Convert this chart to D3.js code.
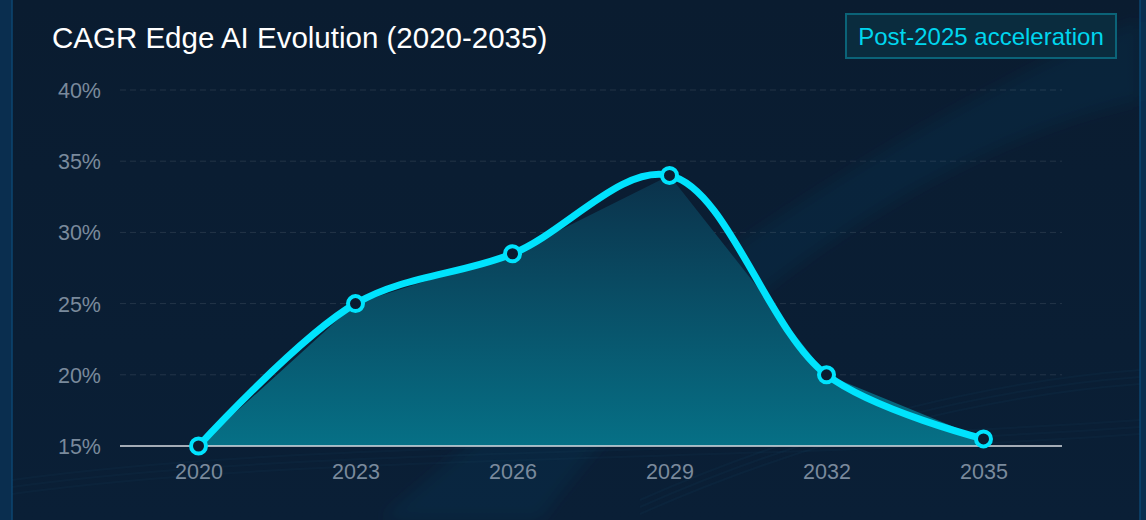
<!DOCTYPE html>
<html lang="en">
<head>
<meta charset="utf-8">
<title>CAGR Edge AI Evolution</title>
<style>
  html, body { margin: 0; padding: 0; background: #0a2a47; }
  #chart { width: 1146px; height: 520px; }
  svg { display: block; font-family: "Liberation Sans", Arial, sans-serif; }
</style>
</head>
<body>
<div id="chart"></div>
<script src="https://cdn.jsdelivr.net/npm/d3@7/dist/d3.min.js"></script>
<script>

// data
var years = [ "2020", "2023", "2026", "2029", "2032", "2035" ];
var cagr = [ 15, 25, 28.5, 34, 20, 15.5 ];
var yTicks = [ 15, 20, 25, 30, 35, 40 ];
var title = "CAGR Edge AI Evolution (2020-2035)";
var badge = "Post-2025 acceleration";

var W = 1146, H = 520;
var plot = { left : 120, right : 1062, top : 90, bottom : 446 };

var svg = d3.select( "#chart" ).append( "svg" )
    .attr( "width" , W )
    .attr( "height" , H );

var defs = svg.append( "defs" );

var bg = defs.append( "linearGradient" ).attr( "id" , "bg" )
    .attr( "x1" , 0 ).attr( "y1" , 0 ).attr( "x2" , 0 ).attr( "y2" , 1 );
bg.append( "stop" ).attr( "offset" , "0%" ).attr( "stop-color" , "#0a1c30" );
bg.append( "stop" ).attr( "offset" , "100%" ).attr( "stop-color" , "#0a1f36" );

var fill = defs.append( "linearGradient" ).attr( "id" , "areafill" )
    .attr( "gradientUnits" , "userSpaceOnUse" )
    .attr( "x1" , 0 ).attr( "y1" , 170 ).attr( "x2" , 0 ).attr( "y2" , plot.bottom );
fill.append( "stop" ).attr( "offset" , "0%" ).attr( "stop-color" , "#0b3049" );
fill.append( "stop" ).attr( "offset" , "100%" ).attr( "stop-color" , "#067086" );

var blur = defs.append( "filter" ).attr( "id" , "soft" )
    .attr( "x" , "-20%" ).attr( "y" , "-20%" ).attr( "width" , "140%" ).attr( "height" , "140%" );
blur.append( "feGaussianBlur" ).attr( "stdDeviation" , 8 );

// page strip and card
svg.append( "rect" ).attr( "x" , 0 ).attr( "y" , 0 ).attr( "width" , W ).attr( "height" , H ).attr( "fill" , "#0a2e4f" );
svg.append( "rect" ).attr( "x" , 12 ).attr( "y" , 0 ).attr( "width" , 1128 ).attr( "height" , H ).attr( "fill" , "url(#bg)" );
svg.append( "line" ).attr( "x1" , 12 ).attr( "x2" , 12 ).attr( "y1" , 0 ).attr( "y2" , H )
    .attr( "stroke" , "#0d4670" ).attr( "stroke-width" , 1.5 );
svg.append( "line" ).attr( "x1" , 1140 ).attr( "x2" , 1140 ).attr( "y1" , 0 ).attr( "y2" , H )
    .attr( "stroke" , "#0d4670" ).attr( "stroke-width" , 1.5 );

// faint swoosh and streaks in the background
var deco = svg.append( "g" );
deco.append( "path" )
    .attr( "d" , "M 380 520 C 600 330, 880 130, 1140 20 L 1140 100 C 950 140, 700 300, 540 520 Z" )
    .attr( "fill" , "#1c5478" ).attr( "fill-opacity" , 0.14 ).attr( "filter" , "url(#soft)" );
var streaks = deco.append( "g" ).attr( "fill" , "none" ).attr( "stroke" , "#1a4a6e" );
[ 0, 7, 14 ].forEach( function( o ) {
    streaks.append( "path" )
        .attr( "d" , "M 640 " + ( 500 + o ) + " C 820 " + ( 420 + o ) + ", 1000 " + ( 380 + o ) + ", 1140 " + ( 370 + o ) )
        .attr( "stroke-opacity" , 0.12 ).attr( "stroke-width" , 2 );
    streaks.append( "path" )
        .attr( "d" , "M 12 " + ( 480 + o ) + " C 300 " + ( 440 + o ) + ", 700 " + ( 450 + o ) + ", 1140 " + ( 420 + o ) )
        .attr( "stroke-opacity" , 0.1 ).attr( "stroke-width" , 2 );
} );

var x = d3.scalePoint().domain( years ).range( [ plot.left , plot.right ] ).padding( 0.5 );
var y = d3.scaleLinear().domain( [ 15 , 40 ] ).range( [ plot.bottom , plot.top ] );

var data = years.map( function( d , i ) { return { year : d , value : cagr[i] }; } );

// grid
svg.append( "g" ).selectAll( "line" )
    .data( yTicks.filter( function( t ) { return t > 15; } ) )
    .enter().append( "line" )
        .attr( "x1" , plot.left ).attr( "x2" , plot.right )
        .attr( "y1" , function( d ) { return y( d ); } )
        .attr( "y2" , function( d ) { return y( d ); } )
        .attr( "stroke" , "#ffffff" ).attr( "stroke-opacity" , 0.1 )
        .attr( "stroke-dasharray" , "6,4" );

// y axis labels
var yAxis = svg.append( "g" )
    .attr( "transform" , "translate(" + ( plot.left - 19 ) + ",0)" )
    .call( d3.axisLeft( y ).tickValues( yTicks ).tickSize( 0 ).tickPadding( 0 )
        .tickFormat( function( d ) { return d + "%"; } ) );
yAxis.select( ".domain" ).remove();
yAxis.selectAll( "text" )
    .attr( "fill" , "#7a8a9c" ).attr( "font-size" , 21.5 )
    .attr( "font-family" , "Liberation Sans, Arial, sans-serif" )
    .attr( "dy" , "0.35em" );

// x axis labels
var xAxis = svg.append( "g" )
    .attr( "transform" , "translate(0," + ( plot.bottom + 18 ) + ")" )
    .call( d3.axisBottom( x ).tickSize( 0 ).tickPadding( 0 ) );
xAxis.select( ".domain" ).remove();
xAxis.selectAll( "text" )
    .attr( "fill" , "#7a8a9c" ).attr( "font-size" , 21.5 )
    .attr( "font-family" , "Liberation Sans, Arial, sans-serif" )
    .attr( "dy" , "0.71em" );

// area (straight segments) and smooth line
var area = d3.area()
    .x( function( d ) { return x( d.year ); } )
    .y0( plot.bottom )
    .y1( function( d ) { return y( d.value ); } );
svg.append( "path" ).datum( data ).attr( "d" , area ).attr( "fill" , "url(#areafill)" );

// baseline
svg.append( "line" )
    .attr( "x1" , plot.left ).attr( "x2" , plot.right )
    .attr( "y1" , y( 15 ) ).attr( "y2" , y( 15 ) )
    .attr( "stroke" , "#d8dde2" ).attr( "stroke-width" , 1.5 );

var line = d3.line()
    .x( function( d ) { return x( d.year ); } )
    .y( function( d ) { return y( d.value ); } )
    .curve( d3.curveCatmullRom.alpha( 0.5 ) );
svg.append( "path" ).datum( data ).attr( "d" , line )
    .attr( "fill" , "none" ).attr( "stroke" , "#00e3fd" )
    .attr( "stroke-width" , 7 ).attr( "stroke-linecap" , "round" ).attr( "stroke-linejoin" , "round" );

svg.append( "g" ).selectAll( "circle" )
    .data( data )
    .enter().append( "circle" )
        .attr( "cx" , function( d ) { return x( d.year ); } )
        .attr( "cy" , function( d ) { return y( d.value ); } )
        .attr( "r" , 7.5 )
        .attr( "fill" , "#0a1c30" )
        .attr( "stroke" , "#00e3fd" ).attr( "stroke-width" , 4 );

// title
svg.append( "text" )
    .attr( "x" , 52 ).attr( "y" , 48 )
    .attr( "fill" , "#ffffff" ).attr( "font-size" , 29.5 )
    .text( title );

// badge
var b = svg.append( "g" );
b.append( "rect" )
    .attr( "x" , 846 ).attr( "y" , 14 ).attr( "width" , 270 ).attr( "height" , 44 )
    .attr( "fill" , "#0a2c3e" ).attr( "stroke" , "#0b6378" ).attr( "stroke-width" , 2 );
b.append( "text" )
    .attr( "x" , 981 ).attr( "y" , 45 )
    .attr( "text-anchor" , "middle" )
    .attr( "fill" , "#00d6ee" ).attr( "font-size" , 24 )
    .text( badge );

</script>
</body>
</html>
